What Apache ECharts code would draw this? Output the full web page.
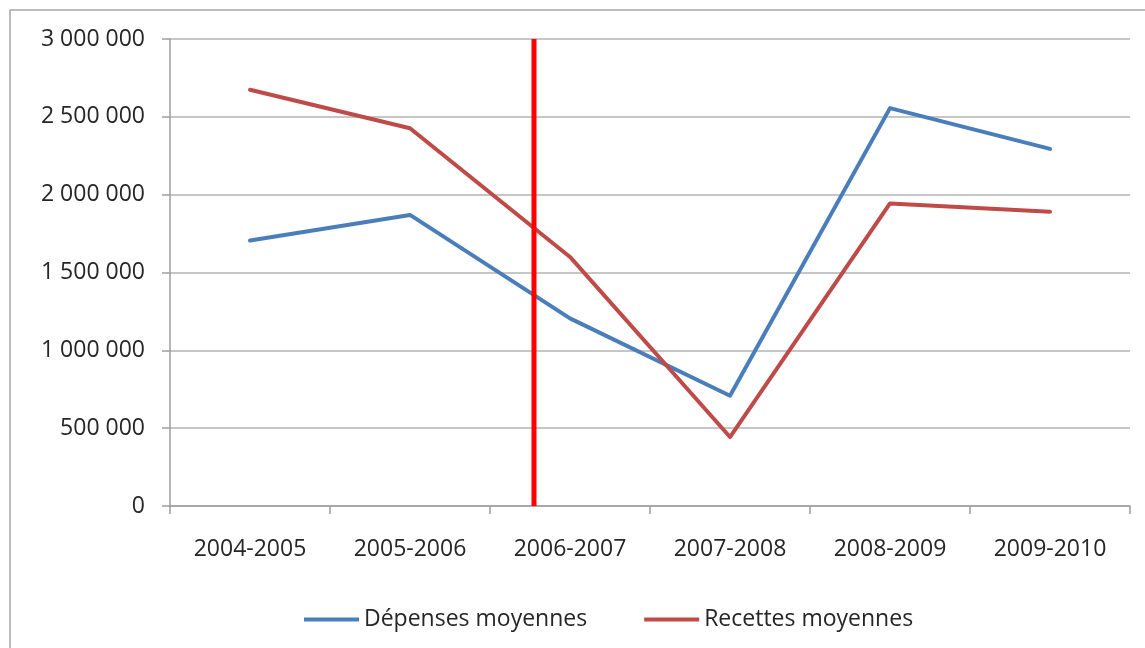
<!DOCTYPE html>
<html>
<head>
<meta charset="utf-8">
<title>Dépenses et recettes moyennes</title>
<script src="https://cdn.jsdelivr.net/npm/echarts@6/dist/echarts.min.js"></script>
<style>
  html, body { margin: 0; padding: 0; background: #ffffff; }
  #chart { width: 1145px; height: 648px; }
</style>
</head>
<body>
<div id="chart"></div>
<script>
// Seasons on the category axis
const seasons = ['2004-2005', '2005-2006', '2006-2007', '2007-2008', '2008-2009', '2009-2010'];

// Average spending and average receipts per season
const depensesMoyennes = [1705000, 1870000, 1205000, 708000, 2556000, 2294000];
const recettesMoyennes = [2674000, 2427000, 1600000, 443000, 1944000, 1891000];

// Value axis range and step
const yMin = 0;
const yMax = 3000000;
const yStep = 500000;

// Vertical red marker, expressed in category widths from the left edge of the plot
const markerPosition = 2.275;
const markerSpan = [0, 3000000];

const seriesNames = ['Dépenses moyennes', 'Recettes moyennes'];
const fontFamily = '"Open Sans", "Noto Sans", sans-serif';

// "3000000" -> "3 000 000"
function spaced(v) {
  return String(Math.round(v)).replace(/\B(?=(\d{3})+(?!\d))/g, ' ');
}

const chart = echarts.init(document.getElementById('chart'), null, { renderer: 'canvas' });

chart.setOption({
  backgroundColor: '#ffffff',
  animation: false,
  textStyle: { fontFamily: fontFamily },
  graphic: [{
    type: 'rect',
    shape: { x: 10, y: 10, width: 1200, height: 700 },
    style: { fill: 'none', stroke: '#a6a6a6', lineWidth: 1.5 },
    silent: true,
    z: -1
  }],
  grid: { left: 170, right: 15, top: 39, bottom: 142, containLabel: false },
  legend: {
    data: seriesNames,
    left: 299,
    top: 603,
    icon: 'rect',
    itemWidth: 55,
    itemHeight: 4,
    itemGap: 57,
    textStyle: { fontSize: 23, color: '#262626', fontFamily: fontFamily }
  },
  xAxis: [{
    type: 'category',
    data: seasons,
    boundaryGap: true,
    axisLine: { lineStyle: { color: '#9e9e9e', width: 1.5 } },
    axisTick: { show: true, length: 8, inside: false, lineStyle: { color: '#9e9e9e', width: 1.5 } },
    axisLabel: { fontSize: 23, color: '#262626', margin: 32, fontFamily: fontFamily },
    splitLine: { show: false }
  }, {
    type: 'value',
    min: 0,
    max: seasons.length,
    show: false,
    splitLine: { show: false }
  }],
  yAxis: {
    type: 'value',
    min: yMin,
    max: yMax,
    interval: yStep,
    axisLine: { show: true, lineStyle: { color: '#9e9e9e', width: 1.5 } },
    axisTick: { show: true, length: 8, lineStyle: { color: '#9e9e9e', width: 1.5 } },
    axisLabel: { fontSize: 23, color: '#262626', margin: 25, formatter: spaced, fontFamily: fontFamily },
    splitLine: { show: true, lineStyle: { color: '#b3b3b3', width: 1.5 } }
  },
  series: [{
    name: seriesNames[0],
    type: 'line',
    data: depensesMoyennes,
    symbol: 'none',
    color: '#4a7ebb',
    lineStyle: { color: '#4a7ebb', width: 4, join: 'round', cap: 'round' },
    z: 3
  }, {
    name: seriesNames[1],
    type: 'line',
    data: recettesMoyennes,
    symbol: 'none',
    color: '#be4b48',
    lineStyle: { color: '#be4b48', width: 4, join: 'round', cap: 'round' },
    z: 3
  }, {
    name: 'marker',
    type: 'line',
    xAxisIndex: 1,
    data: markerSpan.map(v => [markerPosition, v]),
    symbol: 'none',
    lineStyle: { color: '#ff0000', width: 5, cap: 'butt' },
    z: 5
  }]
});
</script>
</body>
</html>
